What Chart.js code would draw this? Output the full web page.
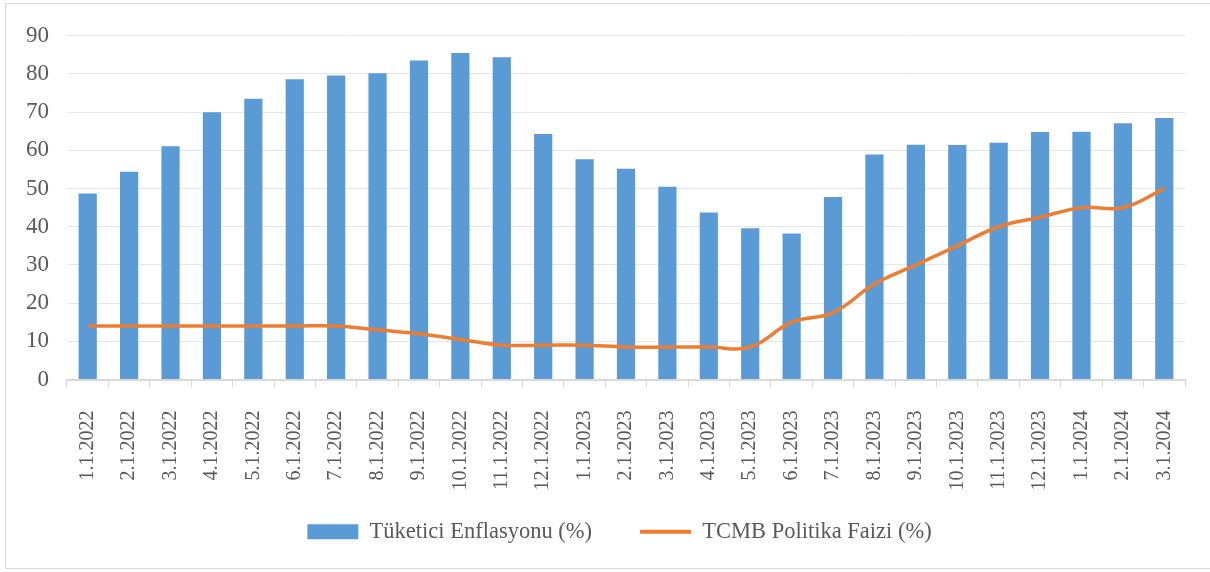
<!DOCTYPE html>
<html>
<head>
<meta charset="utf-8">
<script src="https://cdn.jsdelivr.net/npm/chart.js@4"></script>
<style>
  html, body { margin: 0; padding: 0; background: #fff; overflow: hidden; }
  #box {
    position: absolute; left: 5px; top: 3px;
    width: 1225px; height: 564px;
    border: 1px solid #d9d9d9;
  }
</style>
</head>
<body>
<div id="box"><canvas id="chart" width="1225" height="564"></canvas></div>
<script>
// -----------------------------
// Data
// -----------------------------
const months = [
  "1.1.2022", "2.1.2022", "3.1.2022", "4.1.2022", "5.1.2022", "6.1.2022",
  "7.1.2022", "8.1.2022", "9.1.2022", "10.1.2022", "11.1.2022", "12.1.2022",
  "1.1.2023", "2.1.2023", "3.1.2023", "4.1.2023", "5.1.2023", "6.1.2023",
  "7.1.2023", "8.1.2023", "9.1.2023", "10.1.2023", "11.1.2023", "12.1.2023",
  "1.1.2024", "2.1.2024", "3.1.2024"
];
const inflation = [
  48.7, 54.4, 61.1, 70.0, 73.5, 78.6, 79.6, 80.2, 83.5, 85.5, 84.4, 64.3,
  57.7, 55.2, 50.5, 43.7, 39.6, 38.2, 47.8, 58.9, 61.5, 61.4, 62.0, 64.8,
  64.9, 67.1, 68.5
];
const policyRate = [
  14, 14, 14, 14, 14, 14, 14, 13, 12, 10.5, 9, 9,
  9, 8.5, 8.5, 8.5, 8.5, 15, 17.5, 25, 30, 35, 40, 42.5,
  45, 45, 50
];
const yTicks = [0, 10, 20, 30, 40, 50, 60, 70, 80, 90];

const serif = "'Liberation Serif', 'Times New Roman', serif";
const textColor = "#595959";

// nudge the legend so it sits centred under the whole frame, like the original
const legendShift = {
  id: "legendShift",
  afterLayout(chart) {
    const lg = chart.legend;
    lg.left += 24;
    lg.right += 24;
    lg.top -= 22;
    lg.bottom -= 22;
  }
};

// -----------------------------
// Chart
// -----------------------------
const ctx = document.getElementById("chart").getContext("2d");
new Chart(ctx, {
  data: {
    labels: months,
    datasets: [
      {
        type: "line",
        label: "TCMB Politika Faizi (%)",
        data: policyRate,
        borderColor: "#ed7d31",
        backgroundColor: "#ed7d31",
        borderWidth: 3.5,
        pointRadius: 0,
        tension: 0.4,
        order: 1
      },
      {
        type: "bar",
        label: "Tüketici Enflasyonu (%)",
        data: inflation,
        backgroundColor: "#5b9bd5",
        barPercentage: 0.44,
        categoryPercentage: 1,
        order: 2
      }
    ]
  },
  options: {
    responsive: false,
    animation: false,
    layout: { padding: { left: 0, right: 46, top: 26, bottom: -7 } },
    plugins: {
      tooltip: { enabled: false },
      legend: {
        position: "bottom",
        reverse: true,
        labels: {
          color: textColor,
          font: { family: serif, size: 22.5 },
          usePointStyle: true,
          pointStyleWidth: 51,
          boxHeight: 15,
          padding: 48,
          generateLabels(chart) {
            const items = Chart.defaults.plugins.legend.labels.generateLabels(chart);
            items.forEach(it => {
              const ds = chart.data.datasets[it.datasetIndex];
              it.pointStyle = ds.type === "line" ? "line" : "rect";
              it.lineWidth = ds.type === "line" ? 4 : 0;
              it.strokeStyle = ds.borderColor || ds.backgroundColor;
            });
            return items;
          }
        }
      }
    },
    scales: {
      x: {
        offset: true,
        grid: {
          offset: true,
          drawOnChartArea: false,
          color: "#d9d9d9",
          tickLength: 8
        },
        border: { color: "#d9d9d9", width: 2 },
        ticks: {
          color: textColor,
          font: { family: serif, size: 20 },
          maxRotation: 90,
          minRotation: 90,
          padding: 23,
          autoSkip: false
        },
        afterFit(scale) { scale.height = 115; }
      },
      y: {
        min: 0,
        max: 90,
        afterBuildTicks(scale) { scale.ticks = yTicks.map(v => ({ value: v })); },
        grid: { color: "#e6e6e6", lineWidth: 1, drawTicks: false },
        border: { display: false },
        ticks: {
          color: textColor,
          font: { family: serif, size: 23 },
          padding: 18
        },
        afterFit(scale) { scale.width = 61; }
      }
    }
  },
  plugins: [legendShift]
});
</script>
</body>
</html>
